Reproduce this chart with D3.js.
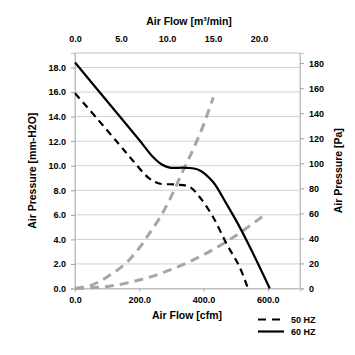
<!DOCTYPE html>
<html><head><meta charset="utf-8">
<script src="https://cdn.jsdelivr.net/npm/d3@7"></script>
<style>
body{margin:0;background:#fff;}
text{font-family:"Liberation Sans",Arial,sans-serif;font-weight:bold;fill:#000;}
</style></head>
<body><svg id="c" width="355" height="355"></svg>
<script>
// Data (cfm, mm-H2O)
const hz60 = [[0,18.4],[100,15.25],[200,12.1],[242,10.73],[270,10.1],[294,9.85],[346,9.83],[387,9.64],[429,8.69],[470,6.95],[512,5.02],[554,2.85],[606,0]];
const hz50 = [[0,15.9],[70,13.8],[137,11.75],[179,10.45],[231,8.96],[262,8.55],[315,8.47],[356,8.28],[387,7.47],[429,5.84],[471,3.67],[512,1.76],[538,0]];
const sysSteep = [[0,0],[52,0.28],[101,0.96],[158,2.05],[200,3.3],[231,4.47],[260,5.6],[290,7.0],[336,9.6],[367,11.3],[398,13.2],[430,15.55]];
const sysShallow = [[0,0],[100,0.17],[200,0.69],[300,1.55],[400,2.75],[500,4.3],[590,6.0]];
const leftTicks = [0,2,4,6,8,10,12,14,16,18];
const rightTicks = [0,20,40,60,80,100,120,140,160,180];
const bottomTicks = [0,200,400,600];
const topTicks = [0,5,10,15,20];
const legendItems = [{label:"50 HZ", dash:"8,6"},{label:"60 HZ", dash:null}];

const svg = d3.select("#c");
const L=75, R=300, T=53, B=288.5;
const x = d3.scaleLinear().domain([0,700]).range([L,R]);
const y = d3.scaleLinear().domain([0,19.18]).range([B,T]);
const yPa = d3.scaleLinear().domain([0,19.18*9.80665]).range([B,T]);
const xTop = d3.scaleLinear().domain([0,24.45]).range([L,R]);

// gridlines
svg.append("g").selectAll("line").data(leftTicks).join("line")
  .attr("x1",L).attr("x2",R).attr("y1",d=>y(d)).attr("y2",d=>y(d))
  .attr("stroke","#d0d0d0").attr("stroke-width",1);
// border
svg.append("rect").attr("x",L).attr("y",T).attr("width",R-L).attr("height",B-T)
  .attr("fill","none").attr("stroke","#c0c0c0").attr("stroke-width",1);

function styleAxis(g){
  g.select(".domain").attr("stroke","#c0c0c0");
  g.selectAll(".tick line").attr("stroke","#a0a0a0");
  g.selectAll(".tick text").style("font-size","9px").style("font-weight","bold").attr("fill","#000");
}
svg.append("g").attr("transform",`translate(${L},0)`)
  .call(d3.axisLeft(y).tickValues(leftTicks).tickFormat(d3.format(".1f")).tickSize(4).tickPadding(5))
  .call(styleAxis);
svg.append("g").attr("transform",`translate(${R},0)`)
  .call(d3.axisRight(yPa).tickValues(rightTicks).tickFormat(d3.format("d")).tickSize(4).tickPadding(5))
  .call(styleAxis);
svg.append("g").attr("transform",`translate(0,${B})`)
  .call(d3.axisBottom(x).tickValues(bottomTicks).tickFormat(d3.format(".1f")).tickSize(3).tickPadding(5))
  .call(styleAxis);
const gt = svg.append("g").attr("transform",`translate(0,${T-10})`)
  .call(d3.axisTop(xTop).tickValues(topTicks).tickFormat(d3.format(".1f")).tickSize(0).tickPadding(1))
  .call(styleAxis);
gt.select(".domain").remove();

// titles
svg.append("text").attr("x",189).attr("y",25).attr("text-anchor","middle").style("font-size","10.5px").text("Air Flow [m³/min]");
svg.append("text").attr("x",187).attr("y",319).attr("text-anchor","middle").style("font-size","10.5px").text("Air Flow [cfm]");
svg.append("text").attr("transform",`translate(36,${(T+B)/2}) rotate(-90)`).attr("text-anchor","middle").style("font-size","10.5px").text("Air Pressure [mm-H2O]");
svg.append("text").attr("transform",`translate(342,${(T+B)/2}) rotate(-90)`).attr("text-anchor","middle").style("font-size","10.5px").text("Air Pressure [Pa]");

// curves
const line = d3.line().x(d=>x(d[0])).y(d=>y(d[1])).curve(d3.curveCatmullRom.alpha(0.5));
svg.append("path").datum(sysSteep).attr("d",line).attr("fill","none").attr("stroke","#a6a6a6").attr("stroke-width",3).attr("stroke-dasharray","9,6");
svg.append("path").datum(sysShallow).attr("d",line).attr("fill","none").attr("stroke","#a6a6a6").attr("stroke-width",3).attr("stroke-dasharray","9,6");
svg.append("path").datum(hz50).attr("d",line).attr("fill","none").attr("stroke","#000").attr("stroke-width",2.2).attr("stroke-dasharray","7,5");
svg.append("path").datum(hz60).attr("d",line).attr("fill","none").attr("stroke","#000").attr("stroke-width",2.2);

// legend
const lg = svg.append("g").selectAll("g").data(legendItems).join("g")
  .attr("transform",(d,i)=>`translate(258,${319.5+i*12})`);
lg.append("line").attr("x1",0).attr("x2",26).attr("stroke","#000").attr("stroke-width",2.2)
  .attr("stroke-dasharray",d=>d.dash);
lg.append("text").attr("x",33).attr("y",3.5).style("font-size","9px").text(d=>d.label);
</script></body></html>
